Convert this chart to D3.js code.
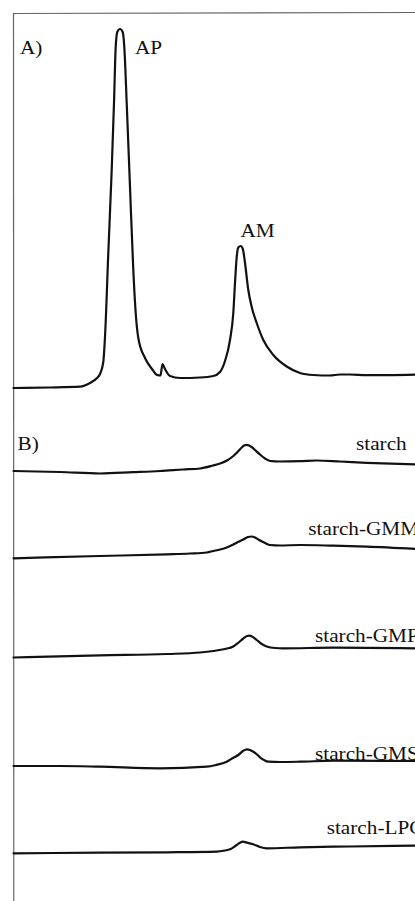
<!DOCTYPE html>
<html>
<head>
<meta charset="utf-8">
<script src="https://cdn.jsdelivr.net/npm/d3@7"></script>
<style>
  html, body { margin: 0; padding: 0; background: #fff; overflow: hidden; }
  svg { display: block; }
</style>
</head>
<body>
<script>
// ---------- DATA (elution time, arbitrary detector response) ----------
// Panel A: starch chromatogram
const elutionA = [0, 3.65, 6.65, 7.65, 8.35, 8.65, 8.98, 9.15, 9.48, 9.82, 10.05, 10.22, 10.38, 10.65, 10.92, 11.08, 11.32, 11.65, 11.98, 12.22, 12.48, 13.15, 13.85, 14.35, 14.7, 14.9, 15.15, 15.65, 16.65, 18.65, 19.98, 20.65, 21.15, 21.65, 21.98, 22.15, 22.32, 22.48, 22.72, 22.92, 23.15, 23.48, 23.82, 24.32, 24.98, 25.98, 27.32, 28.65, 29.98, 31.65, 32.65, 33.65, 35.32, 40.3];
const responseA = [2, 2.5, 3.3, 7, 12, 16, 28, 53, 137, 220, 287, 343, 358, 361, 358, 343, 287, 203, 120, 77, 52, 32, 21, 15, 14.5, 26, 21, 14, 12, 12.5, 14, 18, 29, 50, 77, 107, 133, 142.5, 144, 141.5, 127, 100, 83, 67, 50, 35, 23.5, 17, 15, 14.5, 15.5, 15.5, 14.8, 15.5];
const peakLabelsA = ["AP", "AM"];

// Panel B: complexes
const sampleNames = ["starch", "starch-GMM", "starch-GMP", "starch-GMS", "starch-LPC"];
const sampleOffsets = [430, 343, 244, 135, 48];

const elutionStarch = [0, 4.65, 8.65, 11.95, 14.65, 16.95, 18.65, 19.95, 20.65, 21.35, 21.98, 22.45, 22.82, 23.05, 23.32, 23.55, 23.82, 24.15, 24.65, 25.15, 25.65, 26.65, 28.65, 30.32, 32.65, 35.32, 40.3];
const responseStarch = [0, -1, -2.5, -1.2, 0, 1.5, 2.5, 5.5, 7.5, 10.5, 15, 19.5, 23.5, 25.5, 26.2, 25.5, 24, 21, 16.5, 12.5, 10, 9.5, 9.8, 10.5, 9.5, 8.2, 6.5];

const elutionGMM = [0, 8.65, 15.32, 17.65, 19.32, 19.98, 20.65, 21.32, 21.98, 22.45, 22.98, 23.45, 23.82, 24.15, 24.48, 24.85, 25.25, 25.65, 26.65, 28.65, 31.98, 35.32, 40.3];
const responseGMM = [-0.3, 2, 3.7, 4.5, 5.5, 7, 8.5, 10.5, 13.5, 16, 18.5, 21, 21.5, 20.5, 18.5, 16.5, 14.5, 13, 12.5, 13, 12.3, 11.3, 9];

const elutionGMP = [0, 8.65, 15.32, 18.65, 19.98, 21.15, 21.98, 22.45, 22.98, 23.35, 23.58, 23.85, 24.32, 24.75, 25.32, 26.15, 26.98, 31.98, 40.3];
const responseGMP = [-0.5, 1.7, 3, 4.5, 6, 8, 10.5, 14, 18.5, 21, 21.3, 20.5, 17, 13.5, 10.5, 9, 8.7, 9.3, 8.7];

const elutionGMS = [0, 4.65, 8.65, 14.65, 19.32, 20.25, 21.32, 21.95, 22.48, 22.95, 23.32, 23.65, 23.98, 24.35, 24.65, 25.05, 25.48, 26.65, 28.65, 31.98, 40.3];
const responseGMS = [0, 0, -0.7, -2.3, -0.7, 1, 4.3, 8, 11, 15, 16.7, 16, 14.3, 11.5, 8.7, 6, 4.3, 4, 4.3, 5.3, 5];

const elutionLPC = [0, 8.65, 15.32, 20.32, 21.15, 21.65, 22.25, 22.65, 22.92, 23.25, 23.98, 24.65, 25.32, 28.65, 33.65, 40.3];
const responseLPC = [-0.3, 0.3, 0.7, 1.3, 2.5, 3.7, 7.5, 10.3, 11.3, 10.7, 8.7, 6, 4.7, 5.7, 6.5, 7.3];

const elutionB = [elutionStarch, elutionGMM, elutionGMP, elutionGMS, elutionLPC];
const responseB = [responseStarch, responseGMM, responseGMP, responseGMS, responseLPC];

// ---------- DRAW ----------
const W = 415, H = 901;
const svg = d3.select("body").append("svg").attr("width", W).attr("height", H);

const x = d3.scaleLinear().domain([0, 40]).range([13.5, 413.5]);
const yA = d3.scaleLinear().domain([0, 360]).range([390, 30]);
const yB = d3.scaleLinear().domain([0, 450]).range([901, 451]);

// frame (top and left edges)
svg.append("line").attr("x1", 13.5).attr("x2", W).attr("y1", 13.5).attr("y2", 12.5)
  .attr("stroke", "#666").attr("stroke-width", 1.2);
svg.append("line").attr("x1", 13.5).attr("x2", 13.8).attr("y1", 13).attr("y2", H)
  .attr("stroke", "#666").attr("stroke-width", 1.2);

const lineA = d3.line().x(d => x(d[0])).y(d => yA(d[1])).curve(d3.curveMonotoneX);
svg.append("path")
  .datum(d3.zip(elutionA, responseA))
  .attr("d", lineA)
  .attr("fill", "none").attr("stroke", "#111").attr("stroke-width", 2.2)
  .attr("stroke-linejoin", "round").attr("stroke-linecap", "round");

sampleNames.forEach((name, i) => {
  const off = sampleOffsets[i];
  const line = d3.line().x(d => x(d[0])).y(d => yB(off + d[1])).curve(d3.curveMonotoneX);
  svg.append("path")
    .datum(d3.zip(elutionB[i], responseB[i]))
    .attr("d", line)
    .attr("fill", "none").attr("stroke", "#111").attr("stroke-width", 2.2)
    .attr("stroke-linejoin", "round").attr("stroke-linecap", "round");
});

function label(t, px, py) {
  svg.append("text")
    .attr("transform", `translate(${px},${py}) scale(1.18,1)`)
    .attr("font-family", "'Liberation Serif', 'DejaVu Serif', serif")
    .attr("font-size", 18)
    .attr("fill", "#111")
    .text(t);
}

label("A)", 20, 53.5);
label(peakLabelsA[0], 135, 53.5);
label(peakLabelsA[1], 240.5, 236.7);
label("B)", 17.5, 450);

const labelX = [356, 308.3, 315, 315, 326.7];
const labelY = [450, 535, 641.7, 760, 834];
sampleNames.forEach((name, i) => label(name, labelX[i], labelY[i]));
</script>
</body>
</html>
